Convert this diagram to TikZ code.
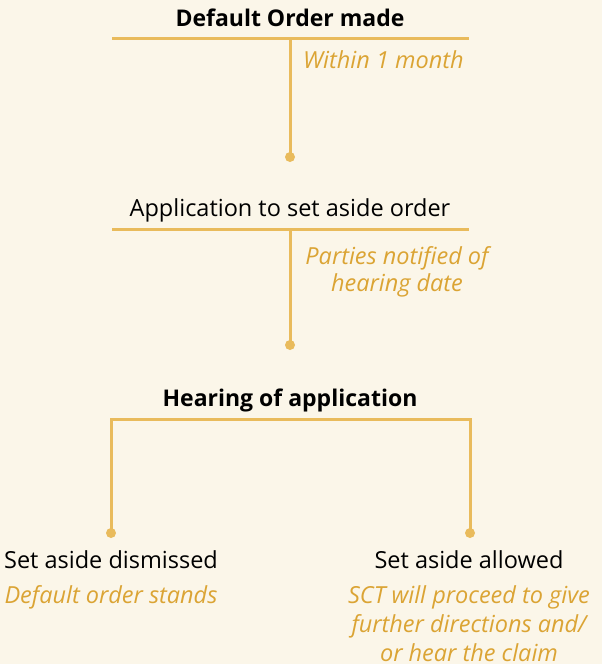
\documentclass[tikz,border=0pt]{standalone}
\usepackage{fontspec}
\setmainfont{Open Sans}
\definecolor{bgc}{RGB}{251,246,233}
\definecolor{linec}{RGB}{233,187,92}
\definecolor{goldtxt}{RGB}{219,164,52}
\tikzset{
  conn/.style={draw=linec, line width=3pt},
  dot/.style={circle, fill=linec, inner sep=0pt, minimum size=10pt},
  headb/.style={anchor=base, inner sep=0pt, font=\fontsize{23}{27}\selectfont\bfseries, text=black},
  headr/.style={anchor=base, inner sep=0pt, font=\fontsize{23.5}{27}\selectfont, text=black},
  note/.style={anchor=base, inner sep=0pt, align=center, text=goldtxt},
}
\begin{document}
\begin{tikzpicture}[x=1pt,y=-1pt]
\fill[bgc] (0,0) rectangle (602,664);
\useasboundingbox (0,0) rectangle (602,664);
% step 1
\node[headb] (t1) at (290,26) {Default Order made};
\coordinate (l1a) at (112,38);
\coordinate (l1b) at (469,38);
\coordinate (l1m) at (290,38);
\node[dot] (d1) at (290,157) {};
\draw[conn] (l1a) -- (l1b);
\draw[conn] (l1m) -- (d1.center);
\node[note, anchor=base west, font=\fontsize{23.5}{27}\selectfont\itshape] (n1) at (303,68) {Within 1 month};
% step 2
\node[headr] (t2) at (290,216) {Application to set aside order};
\coordinate (l2a) at (112,229);
\coordinate (l2b) at (469,229);
\coordinate (l2m) at (290,229);
\node[dot] (d2) at (290,345) {};
\draw[conn] (l2a) -- (l2b);
\draw[conn] (l2m) -- (d2.center);
\node[note, font=\fontsize{23.5}{27}\selectfont\itshape] (n2) at (397,291) {Parties notified of\\hearing date};
% step 3
\node[headb] (t3) at (290,406) {Hearing of application};
\coordinate (b1) at (111,419);
\coordinate (b2) at (470,419);
\node[dot] (d3) at (111,533) {};
\node[dot] (d4) at (470,533) {};
\draw[conn] (d3.center) -- (b1) -- (b2) -- (d4.center);
% outcomes
\node[headr] (o1) at (111,568) {Set aside dismissed};
\node[note, font=\fontsize{23.5}{29}\selectfont\itshape] (n3) at (111,603) {Default order stands};
\node[headr] (o2) at (469,568) {Set aside allowed};
\node[note, font=\fontsize{23.5}{29}\selectfont\itshape] (n4) at (469,661) {SCT will proceed to give\\further directions and/\\or hear the claim};
\end{tikzpicture}
\end{document}
